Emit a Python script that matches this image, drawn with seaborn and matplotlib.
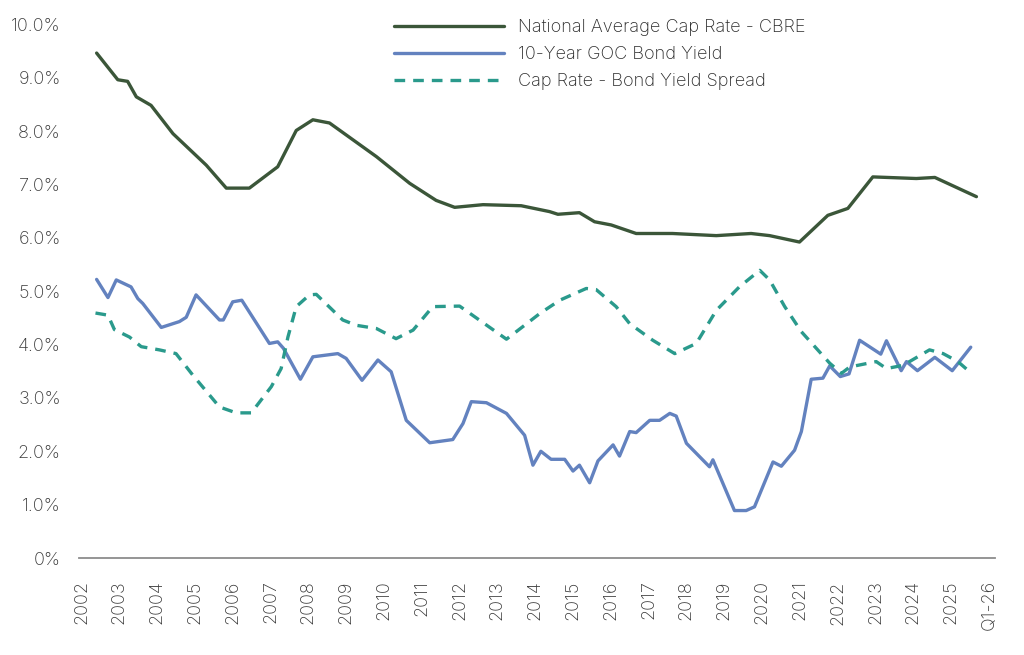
import matplotlib
matplotlib.use("Agg")
import matplotlib.pyplot as plt
import numpy as np
import pandas as pd
import seaborn as sns

# values (x in decimal years, y in %)
cap_year = [2002.40, 2002.96, 2003.22, 2003.45, 2003.84, 2004.42, 2005.30, 2005.83,
            2006.44, 2007.19, 2007.68, 2008.12, 2008.56, 2009.80, 2010.68, 2011.38,
            2011.87, 2012.62, 2013.63, 2014.38, 2014.60, 2015.17, 2015.57, 2016.01,
            2016.67, 2017.63, 2018.79, 2019.71, 2020.20, 2020.99, 2021.74, 2022.27,
            2022.93, 2024.08, 2024.57, 2025.67]
cap_rate = [9.46, 8.96, 8.93, 8.64, 8.48, 7.95, 7.36, 6.93,
            6.93, 7.33, 8.01, 8.21, 8.15, 7.52, 7.02, 6.70,
            6.57, 6.62, 6.60, 6.49, 6.44, 6.47, 6.30, 6.24,
            6.08, 6.08, 6.04, 6.08, 6.04, 5.92, 6.42, 6.55,
            7.14, 7.11, 7.13, 6.77]

bond_year = [2002.40, 2002.70, 2002.92, 2003.31, 2003.49, 2003.62, 2004.11, 2004.59,
             2004.77, 2005.03, 2005.65, 2005.75, 2006.00, 2006.24, 2006.97, 2007.19,
             2007.34, 2007.79, 2008.12, 2008.78, 2009.00, 2009.42, 2009.84, 2010.19,
             2010.59, 2011.21, 2011.82, 2012.09, 2012.31, 2012.71, 2013.24, 2013.72,
             2013.94, 2014.15, 2014.42, 2014.78, 2015.00, 2015.17, 2015.44, 2015.66,
             2016.06, 2016.23, 2016.50, 2016.67, 2017.03, 2017.29, 2017.56, 2017.73,
             2018.00, 2018.61, 2018.70, 2019.27, 2019.58, 2019.80, 2020.29, 2020.51,
             2020.86, 2021.04, 2021.30, 2021.61, 2021.79, 2022.07, 2022.30, 2022.58,
             2023.14, 2023.29, 2023.68, 2023.82, 2024.11, 2024.57, 2025.03, 2025.52]
bond_yield = [5.22, 4.88, 5.21, 5.08, 4.86, 4.77, 4.32, 4.43,
              4.51, 4.93, 4.46, 4.46, 4.80, 4.83, 4.02, 4.05,
              3.93, 3.35, 3.77, 3.83, 3.74, 3.33, 3.71, 3.49,
              2.58, 2.16, 2.22, 2.52, 2.93, 2.91, 2.71, 2.30,
              1.74, 2.00, 1.85, 1.85, 1.63, 1.74, 1.41, 1.82,
              2.12, 1.91, 2.37, 2.35, 2.58, 2.58, 2.71, 2.66,
              2.15, 1.71, 1.84, 0.89, 0.89, 0.96, 1.80, 1.72,
              2.02, 2.37, 3.35, 3.37, 3.60, 3.40, 3.45, 4.08,
              3.82, 4.07, 3.51, 3.68, 3.51, 3.76, 3.51, 3.95]

spread_year = [2002.37, 2002.70, 2002.87, 2003.27, 2003.58, 2004.06, 2004.50, 2004.94,
               2005.65, 2006.09, 2006.49, 2007.02, 2007.28, 2007.46, 2007.68, 2008.03,
               2008.21, 2008.91, 2009.27, 2009.80, 2010.32, 2010.77, 2011.29, 2012.00,
               2012.62, 2013.24, 2013.70, 2014.12, 2014.65, 2015.35, 2015.61, 2016.14,
               2016.50, 2017.11, 2017.69, 2018.26, 2018.79, 2019.40, 2019.94, 2020.20,
               2020.60, 2021.04, 2021.79, 2022.10, 2022.32, 2023.02, 2023.29, 2023.73,
               2024.43, 2024.79, 2025.18, 2025.54]
spread = [4.59, 4.55, 4.28, 4.14, 3.96, 3.90, 3.83, 3.43,
          2.83, 2.72, 2.72, 3.21, 3.55, 4.14, 4.71, 4.93,
          4.94, 4.46, 4.36, 4.30, 4.11, 4.27, 4.71, 4.72,
          4.41, 4.10, 4.35, 4.58, 4.83, 5.05, 5.03, 4.71,
          4.39, 4.08, 3.83, 4.02, 4.64, 5.08, 5.39, 5.21,
          4.71, 4.24, 3.65, 3.46, 3.58, 3.68, 3.55, 3.61,
          3.90, 3.83, 3.68, 3.46]

series_names = ["National Average Cap Rate - CBRE", "10-Year GOC Bond Yield",
                "Cap Rate - Bond Yield Spread"]
x_tick_years = list(range(2002, 2027))
x_tick_labels = [str(y) for y in range(2002, 2026)] + ["Q1-26"]
y_ticks = list(range(0, 11))
y_tick_labels = ["0%"] + [f"{v:.1f}%" for v in range(1, 11)]

sns.set_theme(style="white")
plt.rcParams["font.family"] = ["Inter", "DejaVu Sans"]
plt.rcParams["font.weight"] = "light"

fig = plt.figure(figsize=(10.24, 6.55), dpi=100)
ax = fig.add_axes([0.077, 0.148, 0.895, 0.815])

green = "#3b5639"
blue = "#6382bf"
teal = "#2a9a8c"

sns.lineplot(x=cap_year, y=cap_rate, ax=ax, color=green, linewidth=2.4,
             label=series_names[0])
sns.lineplot(x=bond_year, y=bond_yield, ax=ax, color=blue, linewidth=2.4,
             label=series_names[1])
sns.lineplot(x=spread_year, y=spread, ax=ax, color=teal, linewidth=2.4,
             label=series_names[2])
ax.lines[2].set_dashes((3.2, 2.4))

ax.set_xlim(2001.93, 2026.17)
ax.set_ylim(0, 10)
ax.set_xticks(x_tick_years)
ax.set_xticklabels(x_tick_labels, rotation=90, fontsize=13, color="#3a3a3a")
ax.set_yticks(y_ticks)
ax.set_yticklabels(y_tick_labels, fontsize=13, color="#3a3a3a")
ax.tick_params(axis="x", length=0, pad=16)
ax.tick_params(axis="y", length=0, pad=13)
for side in ["top", "right", "left"]:
    ax.spines[side].set_visible(False)
ax.spines["bottom"].set_color("#8c8c8c")
ax.spines["bottom"].set_linewidth(1.3)
ax.set_xlabel("")
ax.set_ylabel("")

leg = ax.legend(loc="upper left", bbox_to_anchor=(0.326, 1.04), frameon=False,
                fontsize=13, handlelength=6.1, handletextpad=0.75,
                labelspacing=0.55)
for t in leg.get_texts():
    t.set_color("#2b2b2b")
leg.get_lines()[2].set_dashes((3.2, 2.4))

fig.savefig("out.png", dpi=100)
